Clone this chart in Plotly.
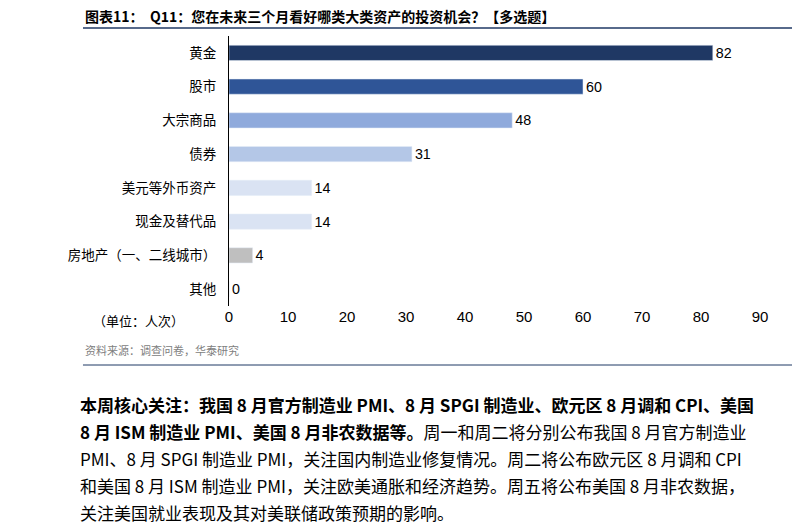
import plotly.graph_objects as go

categories = ["黄金", "股市", "大宗商品", "债券", "美元等外币资产", "现金及替代品", "房地产（一、二线城市）", "其他"]
values = [82, 60, 48, 31, 14, 14, 4, 0]
colors = ["#1f3864", "#2f5597", "#8faadc", "#b4c7e7", "#dae3f3", "#dae3f3", "#bfbfbf", "#bfbfbf"]
x_ticks = [0, 10, 20, 30, 40, 50, 60, 70, 80, 90]

F = "Noto Sans CJK SC"
H = 531
fig = go.Figure(go.Bar(
    y=categories, x=values, orientation="h", marker_color=colors, width=0.45,
    text=[str(v) for v in values], textposition="outside", cliponaxis=False,
    textfont=dict(size=16, color="#000", family="Arial, Liberation Sans"),
))
fig.update_layout(
    width=800, height=H, plot_bgcolor="white", paper_bgcolor="white",
    margin=dict(l=221, r=48, t=28, b=233), showlegend=False,
    font=dict(family=F, color="#000"),
    xaxis=dict(range=[0, 90], tickvals=x_ticks, showgrid=False, zeroline=False,
               showline=False, ticks="", tickfont=dict(size=15, family="Arial, Liberation Sans")),
    yaxis=dict(autorange="reversed", showline=True, linecolor="#000", ticks="",
               tickfont=dict(size=13.5, family=F), ticksuffix="   "),
)
def P(y):  # pixel y -> paper (calibrated)
    return 1 - (y - 30) / (H - 30 - 231)
X0 = -0.275
fig.add_annotation(xref="paper", yref="paper", x=X0, y=P(10), xanchor="left", yanchor="middle",
                   text="<b>图表11：  Q11：您在未来三个月看好哪类大类资产的投资机会？【多选题】</b>",
                   showarrow=False, font=dict(size=14, family=F, color="#000"))
fig.add_shape(type="line", xref="paper", yref="paper", x0=X0, x1=1.09, y0=P(22), y1=P(22),
              line=dict(color="#1f3864", width=1.5))
fig.add_annotation(xref="paper", yref="paper", x=X0 + 0.015, y=P(314), xanchor="left", yanchor="middle",
                   text="（单位：人次）", showarrow=False, font=dict(size=13, family=F))
fig.add_annotation(xref="paper", yref="paper", x=X0, y=P(344), xanchor="left", yanchor="middle",
                   text="资料来源：调查问卷，华泰研究", showarrow=False, font=dict(size=11, family=F, color="#808080"))
fig.add_shape(type="line", xref="paper", yref="paper", x0=X0, x1=1.09, y0=P(359), y1=P(359),
              line=dict(color="#1f3864", width=1))
lines = ["<b>本周核心关注：我国 8 月官方制造业 PMI、8 月 SPGI 制造业、欧元区 8 月调和 CPI、美国</b>",
         "<b>8 月 ISM 制造业 PMI、美国 8 月非农数据等。</b>周一和周二将分别公布我国 8 月官方制造业",
         "PMI、8 月 SPGI 制造业 PMI，关注国内制造业修复情况。周二将公布欧元区 8 月调和 CPI",
         "和美国 8 月 ISM 制造业 PMI，关注欧美通胀和经济趋势。周五将公布美国 8 月非农数据，",
         "关注美国就业表现及其对美联储政策预期的影响。"]
for i, t in enumerate(lines):
    fig.add_annotation(xref="paper", yref="paper", x=X0 - 0.01, y=P(398 + 27 * i), xanchor="left", yanchor="middle",
                       align="left", text=t, showarrow=False, font=dict(size=17, family=F, color="#000"))
fig.write_html("out.html")
